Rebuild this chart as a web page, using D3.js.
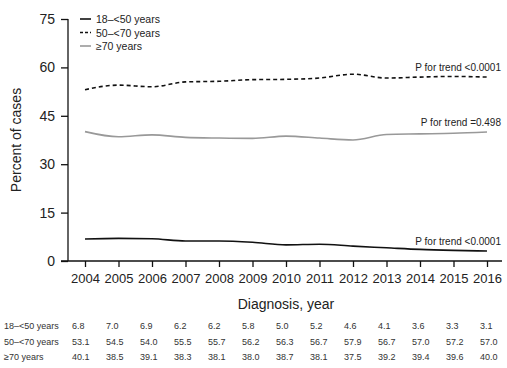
<!DOCTYPE html>
<html>
<head>
<meta charset="utf-8">
<script src="https://cdn.jsdelivr.net/npm/d3@7"></script>
<style>
  html, body { margin: 0; padding: 0; background: #fff; }
  svg { display: block; font-family: "Liberation Sans", Arial, Helvetica, sans-serif; }
</style>
</head>
<body>
<svg id="chart" width="507" height="368"></svg>
<script>
// Share of cases by age group and year of diagnosis
const years = [2004, 2005, 2006, 2007, 2008, 2009, 2010, 2011, 2012, 2013, 2014, 2015, 2016];
const age18to50 = [6.8, 7.0, 6.9, 6.2, 6.2, 5.8, 5.0, 5.2, 4.6, 4.1, 3.6, 3.3, 3.1];
const age50to70 = [53.1, 54.5, 54.0, 55.5, 55.7, 56.2, 56.3, 56.7, 57.9, 56.7, 57.0, 57.2, 57.0];
const age70plus = [40.1, 38.5, 39.1, 38.3, 38.1, 38.0, 38.7, 38.1, 37.5, 39.2, 39.4, 39.6, 40.0];
const seriesNames = ["18\u2013<50 years", "50\u2013<70 years", "\u226570 years"];
const pLabels = ["P for trend <0.0001", "P for trend <0.0001", "P for trend =0.498"];
const yTicks = [0, 15, 30, 45, 60, 75];

const series = [
  { name: seriesNames[0], values: age18to50, color: "#111", dash: null, p: pLabels[0] },
  { name: seriesNames[1], values: age50to70, color: "#111", dash: "4,3", p: pLabels[1] },
  { name: seriesNames[2], values: age70plus, color: "#999", dash: null, p: pLabels[2] }
];

const svg = d3.select("#chart");
const textColor = "#222";

const x = d3.scalePoint().domain(years).range([85, 487]);
const y = d3.scaleLinear().domain([0, 75]).range([261, 19]);

// Y axis
const yAxis = svg.append("g").attr("transform", "translate(68,0)")
  .call(d3.axisLeft(y).tickValues(yTicks).tickSize(7).tickPadding(6));
yAxis.select(".domain").attr("d", `M0,${y(75)}V${y(0)}`).attr("stroke", "#111").attr("stroke-width", 1.3);
yAxis.selectAll(".tick line").attr("stroke", "#111").attr("stroke-width", 1.3);
yAxis.selectAll(".tick text").attr("font-size", 14).attr("fill", textColor).attr("font-family", "Liberation Sans, Arial, sans-serif");

// X axis
const xAxis = svg.append("g").attr("transform", `translate(0,${y(0)})`)
  .call(d3.axisBottom(x).tickSize(6).tickPadding(7));
xAxis.select(".domain").attr("d", "M61,0H502").attr("stroke", "#111").attr("stroke-width", 1.3);
xAxis.selectAll(".tick line").attr("stroke", "#111").attr("stroke-width", 1.3);
xAxis.selectAll(".tick text").attr("font-size", 13).attr("fill", textColor).attr("font-family", "Liberation Sans, Arial, sans-serif");

// Axis titles
svg.append("text")
  .attr("transform", "translate(21,140) rotate(-90)")
  .attr("text-anchor", "middle")
  .attr("font-size", 14).attr("fill", textColor)
  .text("Percent of cases");
svg.append("text")
  .attr("x", 286).attr("y", 309)
  .attr("text-anchor", "middle")
  .attr("font-size", 14).attr("fill", textColor)
  .text("Diagnosis, year");

// Lines
const line = d3.line()
  .x((d, i) => x(years[i]))
  .y(d => y(d))
  .curve(d3.curveMonotoneX);

series.forEach(s => {
  svg.append("path")
    .datum(s.values)
    .attr("fill", "none")
    .attr("stroke", s.color)
    .attr("stroke-width", 1.6)
    .attr("stroke-dasharray", s.dash)
    .attr("d", line);
  // trend annotation above the end of each line
  const last = s.values[s.values.length - 1];
  svg.append("text")
    .attr("x", 501).attr("y", y(last) - 6)
    .attr("text-anchor", "end")
    .attr("font-size", 10).attr("fill", textColor)
    .text(s.p);
});

// Legend
const legend = svg.append("g").attr("transform", "translate(80,19)");
series.forEach((s, i) => {
  const g = legend.append("g").attr("transform", `translate(0,${i * 13.5})`);
  g.append("line")
    .attr("x1", 0).attr("x2", 11).attr("y1", 0).attr("y2", 0)
    .attr("stroke", s.color).attr("stroke-width", 1.6)
    .attr("stroke-dasharray", s.dash ? "3,2" : null);
  g.append("text")
    .attr("x", 16).attr("y", 4)
    .attr("font-size", 10.5).attr("fill", textColor)
    .text(s.name);
});

// Data table under the axis
const col = d3.scaleLinear().domain([0, years.length - 1]).range([72, 480]);
series.forEach((s, i) => {
  const rowY = 329 + i * 15.5;
  svg.append("text")
    .attr("x", 4).attr("y", rowY)
    .attr("font-size", 9).attr("fill", "#333")
    .text(s.name);
  s.values.forEach((v, j) => {
    svg.append("text")
      .attr("x", col(j)).attr("y", rowY)
      .attr("font-size", 9).attr("fill", "#333")
      .text(v.toFixed(1));
  });
});
</script>
</body>
</html>
